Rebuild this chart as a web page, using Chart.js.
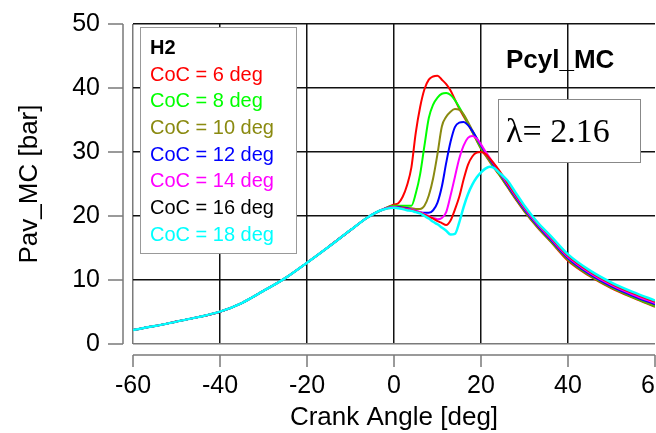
<!DOCTYPE html>
<html>
<head>
<meta charset="utf-8">
<script src="https://cdn.jsdelivr.net/npm/chart.js@4.4.0/dist/chart.umd.min.js"></script>
<style>
  html, body { margin: 0; padding: 0; background: #fff; }
  #wrap { width: 656px; height: 433px; }
</style>
</head>
<body>
<div id="wrap"><canvas id="chart" width="656" height="433"></canvas></div>
<script>
// crank angle [deg]
var angles = [-60, -55, -50, -45, -40, -35, -30, -25, -20, -15, -10, -6, -3,
  0, 1, 2, 3, 4, 5, 6, 7, 8, 9, 10, 11, 12, 13, 14, 15, 16, 17, 18, 19, 20, 21, 22, 23, 24,
  26, 28, 30, 33, 36, 40, 45, 50, 55, 60];

// compression, same for every run (-60 .. -3 deg)
var compression = [2.2, 2.8, 3.5, 4.2, 5.05, 6.4, 8.3, 10.3, 12.7, 15.2, 17.8, 19.8, 20.9];

// Pav_MC [bar] from 0 deg on, one list per start of combustion
var coc6 = [21.8, 22.0, 23.0, 24.8, 27.6, 33.0, 37.0, 39.8, 41.3, 41.8, 41.9, 41.3, 40.6, 39.6, 38.2, 36.8, 35.6, 34.4, 33.1, 31.8, 30.5, 29.5, 28.5, 27.5, 26.6,
  24.6, 22.6, 20.7, 18.2, 16.0, 13.0, 10.6, 8.7, 7.2, 5.8];
var coc8 = [21.6, 21.6, 21.6, 21.6, 21.6, 23.5, 26.5, 31.0, 35.3, 37.4, 38.5, 39.1, 39.2, 38.9, 38.1, 37.0, 35.8, 34.5, 33.2, 31.9, 30.6, 29.6, 28.6, 27.6, 26.7,
  24.7, 22.7, 20.8, 18.3, 16.1, 13.2, 10.7, 8.8, 7.3, 5.9];
var coc10 = [21.5, 21.5, 21.4, 21.3, 21.2, 21.1, 21.1, 21.6, 23.2, 25.9, 29.7, 34.0, 35.5, 36.3, 36.7, 36.6, 35.9, 34.7, 33.4, 32.1, 30.8, 29.7, 28.7, 27.7, 26.8,
  24.8, 22.8, 20.9, 18.4, 16.2, 13.3, 10.8, 8.9, 7.4, 6.0];
var coc12 = [21.4, 21.4, 21.3, 21.2, 21.0, 20.8, 20.6, 20.5, 20.5, 20.9, 22.1, 24.6, 28.3, 31.6, 33.9, 34.6, 34.7, 34.2, 33.3, 32.2, 31.0, 29.9, 28.9, 27.9, 27.0,
  24.9, 22.9, 21.0, 18.5, 16.3, 13.4, 10.9, 9.0, 7.5, 6.2];
var coc14 = [21.4, 21.3, 21.2, 21.1, 21.0, 20.8, 20.6, 20.3, 20.0, 19.7, 19.5, 19.7, 20.6, 23.2, 26.1, 29.0, 31.0, 32.2, 32.5, 32.1, 31.2, 30.1, 29.1, 28.1, 27.1,
  25.1, 23.1, 21.2, 18.7, 16.5, 13.6, 11.1, 9.2, 7.7, 6.4];
var coc16 = [21.3, 21.3, 21.2, 21.0, 20.9, 20.7, 20.5, 20.2, 19.9, 19.6, 19.2, 18.9, 18.6, 19.3, 21.0, 23.0, 25.7, 28.0, 29.3, 29.9, 30.0, 29.7, 29.0, 28.2, 27.3,
  25.3, 23.3, 21.4, 18.9, 16.7, 13.8, 11.3, 9.4, 7.9, 6.6];
var coc18 = [21.3, 21.2, 21.1, 20.9, 20.8, 20.6, 20.4, 20.0, 19.6, 19.1, 18.7, 18.2, 17.7, 17.1, 17.2, 19.0, 21.4, 23.4, 24.9, 26.0, 26.8, 27.4, 27.7, 27.5, 26.9,
  25.6, 23.6, 21.6, 19.0, 16.9, 14.0, 11.5, 9.6, 8.1, 6.8];

var cocDeg = [6, 8, 10, 12, 14, 16, 18];
var runs = [coc6, coc8, coc10, coc12, coc14, coc16, coc18];
var lineColors = ['#ff0000', '#00ff00', '#8a8a10', '#0000ff', '#ff00ff', '#ff0000', '#00ffff'];
var labelColors = ['#ff0000', '#00ff00', '#8a8a10', '#0000ff', '#ff00ff', '#000000', '#00ffff'];

var xTicks = [-60, -40, -20, 0, 20, 40, 60];
var yTicks = [0, 10, 20, 30, 40, 50];

var sans = 'Liberation Sans';

var datasets = runs.map(function (tail, i) {
  var vals = compression.concat(tail);
  return {
    label: 'CoC = ' + cocDeg[i] + ' deg',
    data: angles.map(function (a, k) { return { x: a, y: vals[k] }; }),
    borderColor: lineColors[i],
    borderWidth: i === runs.length - 1 ? 2.5 : 2,
    pointRadius: 0,
    cubicInterpolationMode: 'monotone',
    order: runs.length - i
  };
});

// frame, detached axes, legend and text boxes
var decor = {
  id: 'decor',
  afterDraw: function (chart) {
    var ctx = chart.ctx, a = chart.chartArea;
    var xs = chart.scales.x, ys = chart.scales.y;
    ctx.save();

    ctx.strokeStyle = '#7a7a7a';
    ctx.lineWidth = 1.5;
    ctx.beginPath();
    ctx.moveTo(a.left - 10, a.top);
    ctx.lineTo(a.left - 10, a.bottom);
    yTicks.forEach(function (v) {
      var y = ys.getPixelForValue(v);
      ctx.moveTo(a.left - 25, y);
      ctx.lineTo(a.left - 10, y);
    });
    ctx.moveTo(a.left, a.bottom + 11);
    ctx.lineTo(a.right, a.bottom + 11);
    xTicks.forEach(function (v) {
      var x = xs.getPixelForValue(v);
      ctx.moveTo(x, a.bottom + 11);
      ctx.lineTo(x, a.bottom + 23);
    });
    ctx.stroke();

    // legend
    ctx.fillStyle = '#fff';
    ctx.fillRect(140, 27, 156, 226);
    ctx.strokeStyle = '#999';
    ctx.lineWidth = 1;
    ctx.strokeRect(140.5, 27.5, 156, 226);

    ctx.textBaseline = 'middle';
    ctx.textAlign = 'left';
    ctx.fillStyle = '#000';
    ctx.font = 'bold 20px "' + sans + '"';
    ctx.fillText('H2', 150, 48);
    ctx.font = '20px "' + sans + '"';
    datasets.forEach(function (d, i) {
      ctx.fillStyle = labelColors[i];
      ctx.fillText(d.label, 150, 75 + i * 26.7);
    });

    // title
    ctx.fillStyle = '#000';
    ctx.font = 'bold 26px "' + sans + '"';
    ctx.fillText('Pcyl_MC', 506, 61);

    // lambda box
    ctx.fillStyle = '#fff';
    ctx.fillRect(498, 99, 142, 63);
    ctx.strokeStyle = '#888';
    ctx.strokeRect(498.5, 99.5, 142, 63);
    ctx.fillStyle = '#000';
    ctx.textBaseline = 'alphabetic';
    ctx.font = '34px "Liberation Serif"';
    ctx.fillText('\u03bb= 2.16', 506, 142);

    ctx.restore();
  }
};

function gridColor(edgeGrey, edgeNone) {
  return function (c) {
    if (c.tick.value === edgeGrey) return '#7a7a7a';
    if (c.tick.value === edgeNone) return 'rgba(0,0,0,0)';
    return '#111';
  };
}

new Chart(document.getElementById('chart'), {
  type: 'line',
  data: { datasets: datasets },
  options: {
    responsive: false,
    animation: false,
    devicePixelRatio: 1,
    layout: { padding: { left: 0, top: 24, right: 1, bottom: 0 } },
    plugins: { legend: { display: false }, tooltip: { enabled: false } },
    scales: {
      x: {
        type: 'linear', min: -60, max: 60,
        ticks: { stepSize: 20, autoSkip: false, maxRotation: 0, padding: 27, color: '#000', font: { family: sans, size: 25 } },
        grid: { drawTicks: false, lineWidth: 1.5, color: gridColor(-60, 60) },
        border: { display: false },
        title: { display: true, text: 'Crank Angle [deg]', color: '#000', font: { family: sans, size: 26 }, padding: { top: 0, bottom: 0 } },
        afterFit: function (s) { s.height = 89; s.paddingLeft = 0; s.paddingRight = 0; }
      },
      y: {
        min: 0, max: 50,
        ticks: { stepSize: 10, padding: 33, color: '#000', font: { family: sans, size: 25 } },
        grid: { drawTicks: false, lineWidth: 1.5, color: gridColor(0, null) },
        border: { display: false },
        title: { display: true, text: 'Pav_MC [bar]', color: '#000', font: { family: sans, size: 26 }, padding: { top: 14, bottom: 0 } },
        afterFit: function (s) { s.width = 133; s.paddingTop = 0; s.paddingBottom = 0; }
      }
    }
  },
  plugins: [decor]
});
</script>
</body>
</html>
